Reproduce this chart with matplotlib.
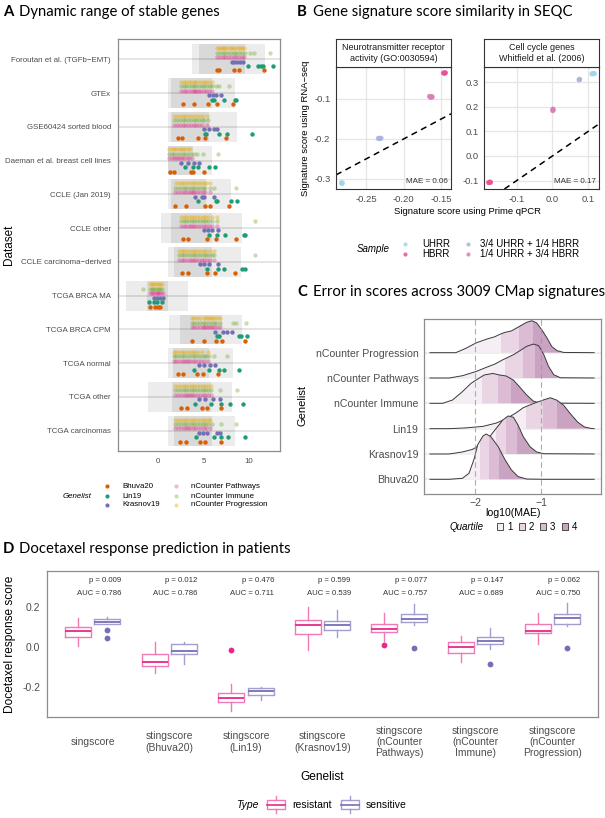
import numpy as np
import matplotlib
matplotlib.use('Agg')
import matplotlib.pyplot as plt
from matplotlib.patches import Rectangle, Polygon

plt.rcParams['font.family'] = ['Liberation Sans', 'DejaVu Sans']

# ---------------- panel A data ----------------
datasets = ['Foroutan et al. (TGFb\u2212EMT)', 'GTEx', 'GSE60424 sorted blood',
            'Daeman et al. breast cell lines', 'CCLE (Jan 2019)', 'CCLE other',
            'CCLE carcinoma\u2212derived', 'TCGA BRCA MA', 'TCGA BRCA CPM',
            'TCGA normal', 'TCGA other', 'TCGA carcinomas']
range_lo = [3.77, 1.06, 1.14, 1.06, 1.06, 0.33, 1.06, -3.55, 1.25, 1.14, -1.1, 1.14]
range_hi = [11.8, 8.5, 8.7, 5.9, 8.0, 9.2, 9.1, 3.33, 9.2, 8.2, 8.1, 8.46]
iqr_lo = [4.5, 1.43, 1.43, 1.06, 1.43, 1.43, 1.76, -1.25, 2.4, 1.6, 1.5, 1.76]
iqr_hi = [9.6, 5.9, 5.6, 3.8, 5.27, 5.9, 5.9, 1.06, 7.0, 5.6, 5.8, 5.9]

bhuva20 = [[6.5, 6.7, 8.3, 8.9, 11.6], [2.7, 3.9, 5.5, 6.5, 8.2], [2.16, 2.6, 4.36, 5.16, 7.47],
           [1.3, 1.8, 3.6, 3.8, 5.0], [1.9, 3.08, 5.16, 5.7, 7.84], [2.7, 3.33, 5.35, 6.37, 8.57],
           [2.6, 3.33, 5.35, 6.26, 8.46], [-0.88, -0.3, -0.05, 0.25], [3.7, 5.1, 6.37, 7.07, 9.5],
           [2.16, 2.7, 4.3, 4.9, 6.56], [2.5, 3.15, 4.87, 5.35, 6.9], [2.4, 3.04, 4.6, 5.2, 6.9]]
lin19 = [[9.9, 11.0, 11.3, 11.5, 12.6], [5.9, 6.1, 7.2, 8.5, 8.6], [5.2, 5.3, 6.7, 7.6, 10.3],
         [2.97, 3.8, 4.36, 5.6, 6.26], [4.43, 6.37, 6.5, 8.0, 8.64], [5.6, 6.45, 7.36, 9.45, 9.6],
         [5.35, 6.6, 7.3, 9.2, 9.56], [-0.95, -0.44, -0.15, 0.4], [6.5, 6.7, 8.9, 9.1, 9.74],
         [4.0, 5.64, 6.74, 7.3, 8.9], [4.07, 5.8, 6.9, 7.9, 9.3], [4.18, 6.2, 6.9, 7.7, 9.56]]
krasnov19 = [[8.1, 8.4, 8.7, 9.0, 9.3], [5.65, 6.0, 6.4, 6.9], [5.0, 5.6, 6.15, 6.5],
             [2.5, 3.26, 3.9, 4.5], [4.07, 4.8, 5.0, 6.15], [5.05, 5.5, 5.9, 6.56],
             [4.6, 5.1, 5.6, 6.56], [-0.44, -0.1, 0.25, 0.59], [6.26, 7.18, 7.55, 8.1],
             [4.5, 5.1, 5.7, 6.3], [4.54, 5.16, 6.08, 6.8], [4.54, 4.9, 5.35, 6.45, 6.8]]
ncounter_prog = [
    [6.5, 6.7, 6.9, 7.1, 7.3, 7.5, 7.8, 8.0, 8.2, 8.5, 8.8, 9.0, 9.2, 9.4],
    [2.5, 2.8, 3.1, 3.4, 3.6, 3.9, 4.1, 4.4, 4.7, 5.0, 5.3, 5.6, 5.9],
    [1.8, 2.1, 2.4, 2.7, 3.0, 3.3, 3.6, 3.9, 4.3, 4.6, 4.9, 5.35],
    [1.25, 1.5, 1.75, 2.0, 2.25, 2.5, 2.75, 3.0, 3.25, 3.5],
    [2.0, 2.3, 2.6, 2.9, 3.2, 3.5, 3.8, 4.1, 4.4, 4.7, 5.0, 5.3, 5.7],
    [2.5, 2.8, 3.1, 3.4, 3.7, 4.0, 4.3, 4.6, 4.9, 5.2, 5.5, 5.9, 6.45],
    [2.3, 2.6, 2.9, 3.2, 3.5, 3.8, 4.1, 4.4, 4.7, 5.0, 5.3, 5.7, 6.2],
    [-0.9, -0.7, -0.5, -0.3, -0.1, 0.1, 0.25, 0.4],
    [3.7, 4.0, 4.3, 4.6, 5.0, 5.3, 5.5, 5.7, 5.9, 6.2, 6.5, 6.8],
    [1.7, 2.0, 2.3, 2.6, 2.9, 3.2, 3.5, 3.8, 4.1, 4.4, 4.8, 5.5],
    [1.9, 2.2, 2.5, 2.8, 3.1, 3.4, 3.7, 4.0, 4.3, 4.6, 4.9, 5.2, 5.5, 5.8],
    [1.9, 2.2, 2.5, 2.8, 3.1, 3.4, 3.7, 4.0, 4.3, 4.6, 4.9, 5.2, 5.5, 5.7]]
ncounter_imm = [
    [6.5, 6.8, 7.1, 7.4, 7.7, 8.0, 8.3, 8.6, 8.9, 9.2, 9.5, 10.1, 10.5, 12.3],
    [2.5, 2.8, 3.1, 3.4, 3.7, 4.0, 4.2, 4.5, 4.8, 5.1, 5.4, 5.7, 5.9, 6.4, 6.7, 7.8],
    [1.8, 2.1, 2.4, 2.7, 3.0, 3.3, 3.6, 3.9, 4.2, 4.5, 4.8, 5.1, 5.5],
    [1.25, 1.5, 1.8, 2.1, 2.4, 2.7, 3.0, 3.3, 3.6, 3.9, 4.3, 4.9, 6.6],
    [1.9, 2.2, 2.5, 2.8, 3.1, 3.4, 3.7, 4.0, 4.3, 4.6, 4.9, 5.2, 5.7, 6.1, 8.6],
    [2.5, 2.8, 3.1, 3.4, 3.7, 4.0, 4.3, 4.6, 4.9, 5.2, 5.5, 5.9, 6.45, 10.7],
    [2.3, 2.6, 2.9, 3.2, 3.5, 3.8, 4.1, 4.4, 4.7, 5.0, 5.3, 5.6, 5.9, 6.2, 10.7],
    [-1.6, -0.9, -0.7, -0.5, -0.3, -0.1, 0.1, 0.25, 0.4],
    [3.7, 4.0, 4.3, 4.6, 4.9, 5.2, 5.5, 5.8, 6.1, 6.4, 6.8, 8.2, 8.6, 9.7],
    [1.7, 2.0, 2.3, 2.6, 2.9, 3.2, 3.5, 3.8, 4.1, 4.4, 4.7, 5.0, 5.3, 5.6, 6.1, 7.6],
    [1.9, 2.2, 2.5, 2.8, 3.1, 3.4, 3.7, 4.0, 4.3, 4.6, 4.9, 5.2, 5.5, 5.8, 6.8, 8.7],
    [1.9, 2.2, 2.5, 2.8, 3.1, 3.4, 3.7, 4.0, 4.3, 4.6, 4.9, 5.2, 5.5, 5.9, 6.9, 8.6]]
ncounter_path = [
    [6.5, 6.8, 7.1, 7.4, 7.7, 8.0, 8.3, 8.6, 8.9, 9.2, 9.4],
    [2.5, 2.8, 3.1, 3.4, 3.7, 3.9, 4.1, 4.3, 4.5, 4.7, 5.0, 5.3, 5.6, 5.9],
    [1.8, 2.1, 2.4, 2.7, 3.0, 3.3, 3.6, 3.9, 4.2, 4.5, 4.8, 5.35],
    [1.25, 1.5, 1.75, 2.0, 2.2, 2.4, 2.6, 2.9, 3.2, 3.45, 3.7],
    [1.9, 2.2, 2.5, 2.8, 3.1, 3.4, 3.6, 3.8, 4.0, 4.3, 4.6, 4.9, 5.2, 5.7],
    [2.5, 2.8, 3.1, 3.4, 3.6, 3.8, 4.1, 4.4, 4.7, 5.0, 5.3, 5.6, 5.9, 6.45],
    [2.3, 2.6, 2.9, 3.2, 3.5, 3.7, 3.9, 4.2, 4.5, 4.8, 5.1, 5.4, 5.7, 6.2],
    [-0.9, -0.7, -0.5, -0.3, -0.1, 0.0, 0.1, 0.3, 0.5],
    [3.7, 4.0, 4.3, 4.6, 4.9, 5.1, 5.3, 5.5, 5.7, 5.9, 6.2, 6.5, 6.8],
    [1.7, 2.0, 2.3, 2.6, 2.9, 3.1, 3.3, 3.5, 3.8, 4.1, 4.4, 4.7, 5.0, 5.5],
    [1.9, 2.2, 2.5, 2.8, 3.1, 3.3, 3.5, 3.7, 4.0, 4.3, 4.6, 4.9, 5.2, 5.5, 5.8],
    [1.9, 2.2, 2.5, 2.8, 3.1, 3.3, 3.5, 3.8, 4.1, 4.4, 4.7, 5.0, 5.3, 5.7]]

# ---------------- panel B data ----------------
samples = ['UHRR', 'HBRR', '3/4 UHRR + 1/4 HBRR', '1/4 UHRR + 3/4 HBRR']
sample_cols = ['#9fd6ea', '#ea4f93', '#aab3dc', '#d880b6']
neuro_sample = [0, 0, 0, 2, 2, 2, 3, 3, 3, 3, 1, 1, 1]
neuro_prime = [-0.2825, -0.2815, -0.2820, -0.2335, -0.2315, -0.2300, -0.1655, -0.1640, -0.1630, -0.1620, -0.1470, -0.1455, -0.1445]
neuro_rnaseq = [-0.3100, -0.3105, -0.3095, -0.1985, -0.1990, -0.1980, -0.0935, -0.0960, -0.0940, -0.0950, -0.0350, -0.0355, -0.0345]
cc_sample = [0, 0, 0, 2, 2, 3, 3, 3, 1, 1, 1]
cc_prime = [0.110, 0.114, 0.117, 0.0745, 0.076, 0.001, 0.0015, 0.002, -0.178, -0.175, -0.173]
cc_rnaseq = [0.333, 0.335, 0.334, 0.309, 0.311, 0.184, 0.190, 0.187, -0.108, -0.106, -0.107]

# ---------------- panel C data ----------------
ridge_names = ['Bhuva20', 'Krasnov19', 'Lin19', 'nCounter Immune', 'nCounter Pathways', 'nCounter Progression']
ridge_x = [
    [-2.68, -2.39, -2.19, -2.09, -2.01, -1.96, -1.88, -1.83, -1.76, -1.65, -1.55, -1.45, -1.35, -1.22, -0.96, -0.20],
    [-2.68, -2.39, -2.19, -2.04, -1.88, -1.78, -1.68, -1.58, -1.50, -1.42, -1.35, -1.27, -1.17, -1.07, -0.96, -0.20],
    [-2.68, -2.39, -2.14, -1.88, -1.68, -1.53, -1.37, -1.27, -1.12, -0.96, -0.86, -0.76, -0.66, -0.56, -0.45, -0.35, -0.25, -0.20],
    [-2.68, -2.49, -2.34, -2.19, -2.06, -1.96, -1.86, -1.73, -1.63, -1.53, -1.42, -1.32, -1.22, -1.12, -1.02, -0.20],
    [-2.68, -2.39, -2.19, -1.98, -1.83, -1.70, -1.58, -1.42, -1.32, -1.22, -1.12, -1.04, -0.96, -0.89, -0.81, -0.71, -0.20],
    [-2.68, -2.29, -2.14, -1.98, -1.83, -1.70, -1.63, -1.55, -1.45, -1.32, -1.22, -1.14, -1.07, -0.99, -0.91, -0.84, -0.76, -0.66, -0.20]]
ridge_h = [
    [0, 0, 0.04, 0.24, 0.83, 1.36, 1.71, 1.79, 1.68, 1.29, 0.79, 0.37, 0.11, 0.01, 0, 0],
    [0, 0, 0.08, 0.18, 0.42, 0.68, 1.01, 1.34, 1.50, 1.45, 1.14, 0.68, 0.29, 0.08, 0.01, 0],
    [0, 0, 0.03, 0.09, 0.22, 0.39, 0.64, 0.83, 0.99, 1.14, 1.22, 1.12, 0.92, 0.59, 0.26, 0.07, 0.01, 0],
    [0, 0, 0.13, 0.46, 0.79, 0.96, 1.12, 1.18, 1.12, 1.08, 0.92, 0.63, 0.33, 0.09, 0.01, 0],
    [0, 0, 0.09, 0.26, 0.42, 0.55, 0.72, 0.92, 1.08, 1.25, 1.34, 1.28, 0.92, 0.46, 0.13, 0.01, 0],
    [0, 0, 0.17, 0.39, 0.53, 0.63, 0.72, 0.80, 0.86, 1.05, 1.20, 1.26, 1.18, 0.90, 0.57, 0.24, 0.08, 0.01, 0]]
ridge_q = [[-1.92, -1.79, -1.64], [-1.69, -1.53, -1.36], [-1.23, -0.97, -0.76],
           [-1.89, -1.66, -1.45], [-1.55, -1.28, -1.09], [-1.60, -1.33, -1.13]]
quart_cols = ['#f5eef4', '#e9d5e4', '#dbbcd4', '#cba3c2']

# ---------------- panel D data ----------------
groups = ['singscore', 'stingscore\n(Bhuva20)', 'stingscore\n(Lin19)', 'stingscore\n(Krasnov19)',
          'stingscore\n(nCounter\nPathways)', 'stingscore\n(nCounter\nImmune)', 'stingscore\n(nCounter\nProgression)']
res_whislo = [0.005, -0.132, -0.32, -0.015, 0.03, -0.073, 0.013]
res_q1 = [0.05, -0.095, -0.277, 0.065, 0.073, -0.028, 0.068]
res_med = [0.078, -0.077, -0.257, 0.108, 0.092, 0.0, 0.08]
res_q3 = [0.102, -0.037, -0.232, 0.135, 0.117, 0.027, 0.117]
res_whishi = [0.143, 0.023, -0.185, 0.202, 0.172, 0.055, 0.168]
res_fliers = [[], [], [-0.017], [], [0.01], [], []]
sen_whislo = [0.117, -0.087, -0.265, 0.05, 0.11, -0.012, 0.107]
sen_q1 = [0.117, -0.037, -0.24, 0.087, 0.123, 0.017, 0.117]
sen_med = [0.127, -0.018, -0.222, 0.108, 0.14, 0.028, 0.143]
sen_q3 = [0.138, 0.017, -0.203, 0.132, 0.167, 0.05, 0.167]
sen_whishi = [0.152, 0.023, -0.2, 0.185, 0.213, 0.093, 0.218]
sen_fliers = [[0.083, 0.045], [], [], [], [-0.003], [-0.083], [-0.007]]
p_vals = ['0.009', '0.012', '0.476', '0.599', '0.077', '0.147', '0.062']
auc_vals = ['0.786', '0.786', '0.711', '0.539', '0.757', '0.689', '0.750']

# ---------------- figure ----------------
W, H = 605, 818
fig = plt.figure(figsize=(W / 100, H / 100), dpi=100)
GRAY = '#4d4d4d'
TITLE_FONT = ['Lato', 'DejaVu Sans']


def px_ax(x0, y0, x1, y1):
    return fig.add_axes([x0 / W, 1 - y1 / H, (x1 - x0) / W, (y1 - y0) / H])


def frame(ax, col='#8c8c8c', lw=0.9):
    for s in ax.spines.values():
        s.set_color(col)
        s.set_linewidth(lw)


def title(x, y, letter, text):
    fig.text(x / W, 1 - y / H, letter, family=TITLE_FONT, weight='bold', fontsize=10.7, va='center')
    fig.text((x + 16) / W, 1 - y / H, text, family=TITLE_FONT, fontsize=10.7, va='center')


# ---- A ----
axA = px_ax(118, 39, 280, 451)
listsA = [(ncounter_prog, '#e6ab02', 0.4), (ncounter_imm, '#66a61e', 0.35), (ncounter_path, '#e7298a', 0.35),
          (krasnov19, '#7570b3', 1), (lin19, '#1b9e77', 1), (bhuva20, '#d95f02', 1)]
for i in range(len(datasets)):
    y = i + 1
    axA.axhline(y, color='#dedede', lw=1.1, zorder=0.5)
    axA.add_patch(Rectangle((range_lo[i], y - 0.44), range_hi[i] - range_lo[i], 0.88,
                            fc='black', alpha=0.075, ec='none', zorder=1))
    axA.add_patch(Rectangle((iqr_lo[i], y - 0.44), iqr_hi[i] - iqr_lo[i], 0.88,
                            fc='black', alpha=0.08, ec='none', zorder=1.2))
    for k, (vals, col, al) in enumerate(listsA):
        off = (k - 2.5) * 0.133
        axA.scatter(vals[i], [y + off] * len(vals[i]), s=10, color=col, alpha=al, lw=0, zorder=3)
axA.set_xlim(-4.4, 13.4)
axA.set_ylim(12.6, 0.4)
axA.set_yticks(range(1, 13), datasets)
axA.set_xticks([0, 5, 10])
axA.tick_params(length=0, labelsize=5.7, labelcolor=GRAY, pad=5)
frame(axA)
fig.text(9 / W, 1 - 245 / H, 'Dataset', rotation=90, ha='center', va='center', fontsize=8.5)

# ---- B ----
facets = [((336, 451), 'Neurotransmitter receptor\nactivity (GO:0030594)', neuro_prime, neuro_rnaseq, neuro_sample,
           (-0.2898, -0.137), (-0.325, -0.02), [-0.25, -0.20, -0.15], [-0.3, -0.2, -0.1], 'MAE = 0.06'),
          ((484, 599), 'Cell cycle genes\nWhitfield et al. (2006)', cc_prime, cc_rnaseq, cc_sample,
           (-0.191, 0.13), (-0.134, 0.361), [-0.1, 0.0, 0.1], [-0.1, 0.0, 0.1, 0.2, 0.3], 'MAE = 0.17')]
for (x0, x1), strip, px, py, ps, xl, yl, xt, yt, mae in facets:
    ax = px_ax(x0, 67, x1, 189)
    ax.set_xlim(*xl)
    ax.set_ylim(*yl)
    ax.set_xticks(xt)
    ax.set_yticks(yt)
    ax.xaxis.set_major_formatter(matplotlib.ticker.FormatStrFormatter('%.2f' if x0 < 400 else '%.1f'))
    ax.yaxis.set_major_formatter(matplotlib.ticker.FormatStrFormatter('%.1f'))
    ax.grid(color='#e6e6e6', lw=0.9)
    ax.set_axisbelow(True)
    ax.axline((0, 0), slope=1, color='black', ls=(0, (4, 3)), lw=1.1, zorder=2)
    ax.scatter(px, py, s=14, c=[sample_cols[j] for j in ps], lw=0, alpha=0.85, zorder=3)
    ax.text(0.97, 0.06, mae, transform=ax.transAxes, ha='right', va='center', fontsize=5.8, color='#333333')
    ax.tick_params(length=0, labelsize=6.8, labelcolor=GRAY, pad=4)
    frame(ax, '#333333', 0.8)
    sx = px_ax(x0, 39, x1, 67)
    sx.set_xticks([])
    sx.set_yticks([])
    frame(sx, '#333333', 0.8)
    sx.text(0.5, 0.5, strip, ha='center', va='center', fontsize=6.5, color='#1a1a1a', linespacing=1.15)
fig.text(305 / W, 1 - 128 / H, 'Signature score using RNA\u2212seq', rotation=90, ha='center', va='center', fontsize=6.8)
fig.text(467 / W, 1 - 212 / H, 'Signature score using Prime qPCR', ha='center', va='center', fontsize=6.8)

# ---- C ----
axC = px_ax(424, 319, 601, 494)
axC.set_xlim(-2.77, -0.097)
axC.set_ylim(0.42, 7.33)
for i in range(len(ridge_names) - 1, -1, -1):
    base = i + 1
    z = 10 - i
    xs = np.array(ridge_x[i])
    ys = base + np.array(ridge_h[i])
    axC.axhline(base, color='#ececec', lw=1.2, zorder=0.5)
    verts = list(zip(xs, ys)) + [(xs[-1], base), (xs[0], base)]
    edges = [-5] + ridge_q[i] + [5]
    for q in range(4):
        poly = Polygon(verts, closed=True, fc=quart_cols[q], ec='none', zorder=z)
        axC.add_patch(poly)
        clip = Rectangle((edges[q], 0), edges[q + 1] - edges[q], 10, transform=axC.transData)
        poly.set_clip_path(clip)
    axC.plot(xs, ys, color='#3a3a3a', lw=0.7, zorder=z + 0.1)
for xv in (-2, -1):
    axC.axvline(xv, color='#9a9a9a', ls=(0, (5, 3)), lw=0.8, alpha=0.8, zorder=20)
axC.set_yticks(range(1, 7), ridge_names)
axC.set_xticks([-2, -1])
axC.tick_params(length=0, labelsize=7.6, labelcolor=GRAY, pad=4)
axC.tick_params(axis='x', pad=3)
frame(axC)
axC.set_xlabel('log10(MAE)', fontsize=7.6, labelpad=0)
fig.text(303 / W, 1 - 405 / H, 'Genelist', rotation=90, ha='center', va='center', fontsize=8)

# ---- D ----
axD = px_ax(47, 571, 598, 717)
pos = np.arange(1, len(groups) + 1)
for off, col, med_col, q1, med, q3, lo, hi, fl in [
        (-0.19, '#f27ab4', '#e7298a', res_q1, res_med, res_q3, res_whislo, res_whishi, res_fliers),
        (0.19, '#a29ed2', '#7570b3', sen_q1, sen_med, sen_q3, sen_whislo, sen_whishi, sen_fliers)]:
    stats = [dict(med=med[j], q1=q1[j], q3=q3[j], whislo=lo[j], whishi=hi[j], fliers=fl[j]) for j in range(len(groups))]
    axD.bxp(stats, positions=pos + off, widths=0.34, showcaps=False, manage_ticks=False,
            boxprops=dict(color=col, lw=1.0), whiskerprops=dict(color=col, lw=1.0),
            medianprops=dict(color=med_col, lw=1.3),
            flierprops=dict(marker='o', markerfacecolor=med_col, markeredgecolor='none', markersize=4.2))
for j in range(len(groups)):
    axD.text(pos[j] + 0.37, 0.33, 'p = ' + p_vals[j], ha='right', va='center', fontsize=5.6, color='#333333')
    axD.text(pos[j] + 0.37, 0.267, 'AUC = ' + auc_vals[j], ha='right', va='center', fontsize=5.6, color='#333333')
axD.set_xlim(0.4, 7.6)
axD.set_ylim(-0.35, 0.38)
axD.set_yticks([-0.2, 0.0, 0.2])
axD.yaxis.set_major_formatter(matplotlib.ticker.FormatStrFormatter('%.1f'))
axD.set_xticks(pos, groups)
for lab in axD.get_xticklabels():
    lab.set_va('center')
    lab.set_linespacing(1.15)
axD.tick_params(length=0, labelsize=7.5, labelcolor=GRAY)
axD.tick_params(axis='x', pad=18)
axD.tick_params(axis='y', pad=5)
frame(axD)
fig.text(10 / W, 1 - 644 / H, 'Docetaxel response score', rotation=90, ha='center', va='center', fontsize=8.6)
fig.text(322 / W, 1 - 777 / H, 'Genelist', ha='center', va='center', fontsize=8.6)

# ---- titles ----
title(3, 12, 'A', 'Dynamic range of stable genes')
title(297, 12, 'B', 'Gene signature score similarity in SEQC')
title(297, 292, 'C', 'Error in scores across 3009 CMap signatures')
title(3, 549, 'D', 'Docetaxel response prediction in patients')

# ---- legends (pixel overlay) ----
ov = fig.add_axes([0, 0, 1, 1])
ov.set_xlim(0, W)
ov.set_ylim(H, 0)
ov.axis('off')
# A legend
ov.text(77, 496, 'Genelist', style='italic', ha='center', va='center', fontsize=5.7)
legA = [('Bhuva20', '#d95f02', 1), ('Lin19', '#1b9e77', 1), ('Krasnov19', '#7570b3', 1),
        ('nCounter Pathways', '#e7298a', 0.35), ('nCounter Immune', '#66a61e', 0.35), ('nCounter Progression', '#e6ab02', 0.4)]
for k, (lab, col, al) in enumerate(legA):
    cx = 107 if k < 3 else 176
    cy = [486, 496, 505][k % 3]
    ov.scatter([cx], [cy], s=9, color=col, alpha=al, lw=0)
    ov.text(cx + 15, cy, lab, va='center', fontsize=5.7)
# B legend
ov.text(373, 249, 'Sample', style='italic', ha='center', va='center', fontsize=7)
for k, lab in enumerate(samples):
    cx = 405 if k < 2 else 468
    cy = 244 if k % 2 == 0 else 254
    ov.scatter([cx], [cy], s=9, color=sample_cols[k], alpha=0.85, lw=0)
    ov.text(cx + (17 if k < 2 else 12), cy, lab, va='center', fontsize=7)
# C legend
ov.text(467, 527, 'Quartile', style='italic', ha='center', va='center', fontsize=7)
for k in range(4):
    bx = 497 + k * 21.5
    ov.add_patch(Rectangle((bx, 523), 6, 7, fc=quart_cols[k], ec='#333333', lw=0.6))
    ov.text(bx + 10, 526.5, str(k + 1), va='center', fontsize=7)
# D legend
ov.text(247, 805, 'Type', style='italic', ha='center', va='center', fontsize=7.5)
for cx, col, mcol, lab in [(276, '#f27ab4', '#e7298a', 'resistant'), (350, '#a29ed2', '#7570b3', 'sensitive')]:
    ov.add_patch(Rectangle((cx - 9, 800), 18, 9, fc='none', ec=col, lw=1.0))
    ov.plot([cx - 9, cx + 9], [804.5, 804.5], color=mcol, lw=1.2)
    ov.plot([cx, cx], [796, 800], color=col, lw=1.0)
    ov.plot([cx, cx], [809, 813], color=col, lw=1.0)
    ov.text(cx + 16, 805, lab, va='center', fontsize=7.5)

fig.savefig('out.png', dpi=100)
